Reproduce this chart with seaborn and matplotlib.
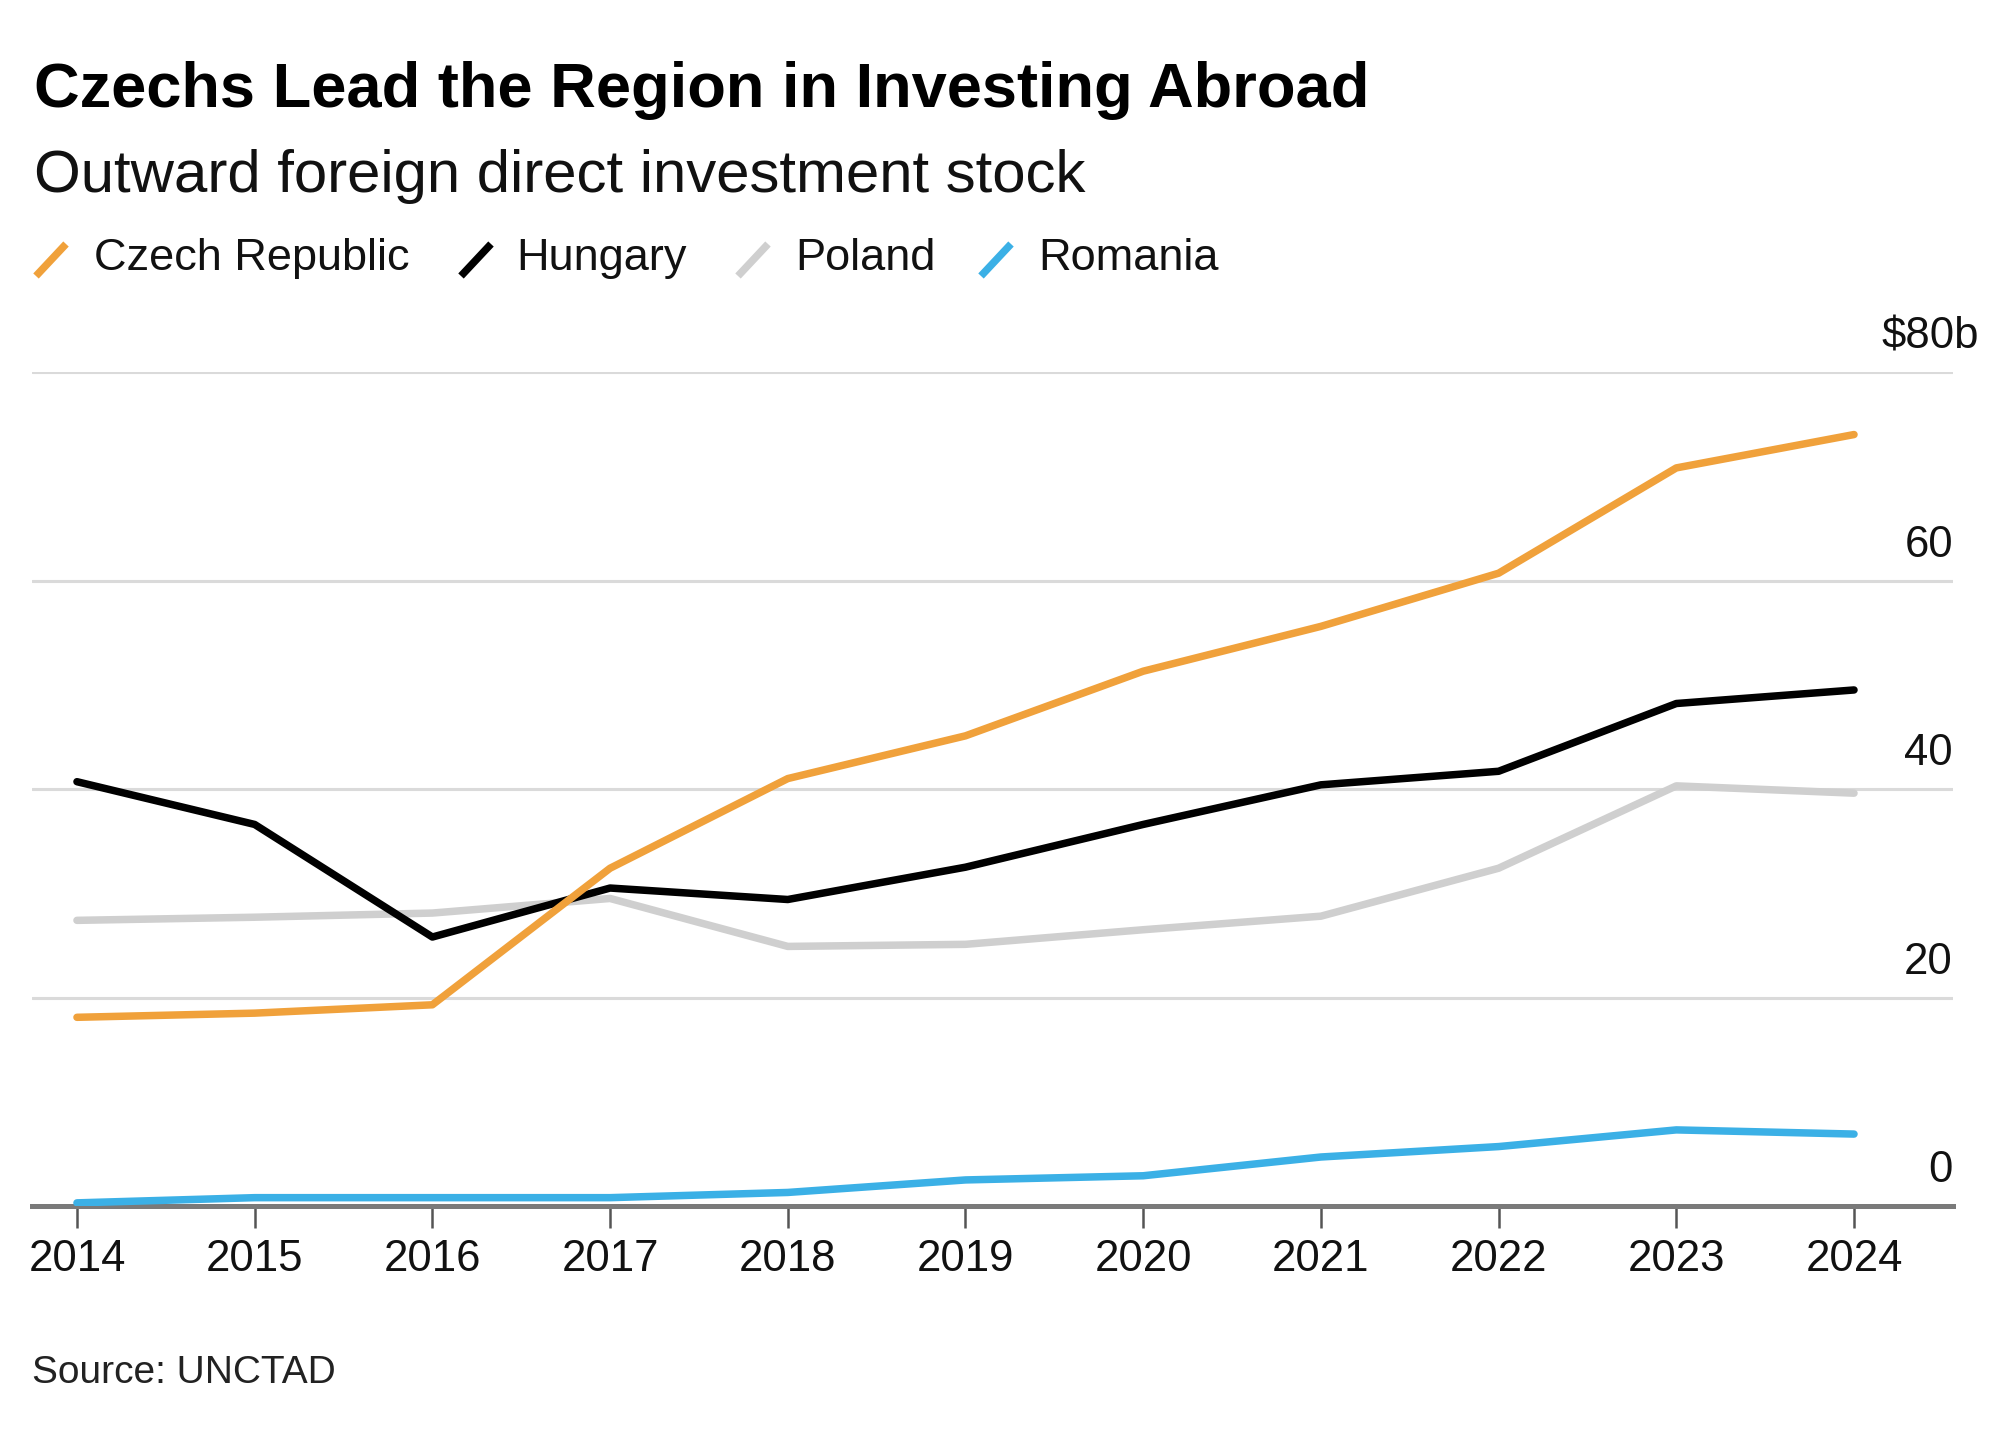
import pandas as pd
import matplotlib.pyplot as plt
import matplotlib.transforms as mtransforms
from matplotlib.lines import Line2D
import seaborn as sns

sns.set_style("white")
plt.rcParams["font.family"] = ["Liberation Sans", "DejaVu Sans"]

# Outward FDI stock, $ billions
years = list(range(2014, 2025))
czech = [18.1, 18.5, 19.3, 32.4, 41.0, 45.1, 51.3, 55.6, 60.7, 70.8, 74.0]
hungary = [40.7, 36.6, 25.8, 30.5, 29.4, 32.5, 36.6, 40.4, 41.7, 48.2, 49.5]
poland = [27.4, 27.7, 28.1, 29.5, 24.9, 25.1, 26.5, 27.8, 32.4, 40.3, 39.6]
romania = [0.3, 0.8, 0.8, 0.8, 1.3, 2.5, 2.9, 4.7, 5.7, 7.3, 6.9]

countries = ["Czech Republic", "Hungary", "Poland", "Romania"]
colors = {"Czech Republic": "#F0A13B", "Hungary": "#000000",
          "Poland": "#CFCFCF", "Romania": "#3BB0E6"}
y_ticks = [0, 20, 40, 60, 80]
y_labels = ["0", "20", "40", "60", "$80b"]

data = pd.DataFrame({
    "Year": years * 4,
    "Value": czech + hungary + poland + romania,
    "Country": sum([[c] * len(years) for c in countries], []),
})

W, H = 2000, 1456
fig = plt.figure(figsize=(W / 100, H / 100), dpi=100)
ax = fig.add_axes([32 / W, 1 - 1206 / H, (1953 - 32) / W, (1206 - 372) / H])

# draw order: gray under black under orange
sns.lineplot(data=data, x="Year", y="Value", hue="Country",
             hue_order=["Poland", "Hungary", "Czech Republic", "Romania"],
             palette=colors, linewidth=5.4, legend=False, ax=ax, zorder=3)

ax.set_xlim(2013.747, 2024.557)
ax.set_ylim(0, 80)
ax.set_xlabel("")
ax.set_ylabel("")

# gridlines
ax.set_yticks(y_ticks)
ax.set_yticklabels([])
ax.tick_params(axis="y", length=0, left=False)
ax.grid(axis="y", color="#DADADA", linewidth=2.2)
ax.grid(axis="x", visible=False)

for s in ["top", "right", "left"]:
    ax.spines[s].set_visible(False)
ax.spines["bottom"].set_color("#7A7A7A")
ax.spines["bottom"].set_linewidth(3.6)
ax.spines["bottom"].set_zorder(2.5)

ax.set_xticks(years)
ax.set_xticklabels([str(y) for y in years])
ax.tick_params(axis="x", bottom=True, direction="out", length=16, width=1.8,
               color="#555555", pad=8, labelsize=31.5, labelcolor="#111111")

# y labels sit above the gridlines, right aligned
lab_tr = mtransforms.offset_copy(ax.get_yaxis_transform(), fig=fig,
                                 x=0, y=24, units="dots")
for v, lab in zip(y_ticks, y_labels):
    xpos = 1.0135 if lab.startswith("$") else 1.0
    ax.text(xpos, v, lab, transform=lab_tr, ha="right", va="baseline",
            fontsize=31.5, color="#111111")

# title block
fig.text(34 / W, 1 - 107 / H, "Czechs Lead the Region in Investing Abroad",
         fontsize=45.5, fontweight="bold", color="#000000", va="baseline")
fig.text(34 / W, 1 - 192 / H, "Outward foreign direct investment stock",
         fontsize=43.2, color="#111111", va="baseline")

# legend: colored slashes + labels
leg_x = {"Czech Republic": (36, 94), "Hungary": (461, 516),
         "Poland": (738, 795), "Romania": (981, 1038)}
for c in countries:
    sx, tx = leg_x[c]
    fig.add_artist(Line2D([sx / W, (sx + 30) / W], [1 - 276 / H, 1 - 244 / H],
                          transform=fig.transFigure, color=colors[c],
                          linewidth=5.4, solid_capstyle="butt"))
    fig.text(tx / W, 1 - 270 / H, c, fontsize=32.5, color="#111111", va="baseline")

fig.text(32 / W, 1 - 1383 / H, "Source: UNCTAD", fontsize=28,
         color="#222222", va="baseline")

fig.savefig("out.png", dpi=100, facecolor="white")
